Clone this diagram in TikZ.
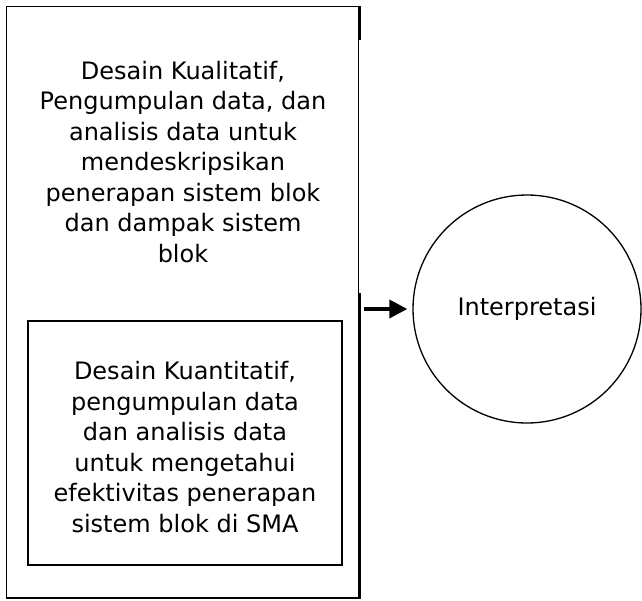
\documentclass[tikz,border=0pt]{standalone}
\usepackage{fontspec}
\setmainfont{DejaVu Sans}
\usetikzlibrary{arrows.meta}

\begin{document}
\begin{tikzpicture}[x=1pt, y=-1pt,
  box/.style={draw, rectangle, inner sep=0pt},
  txt/.style={align=center, font=\fontsize{24}{30.5}\selectfont},
  flow/.style={line width=3.5pt, -{Triangle[length=18pt, width=18pt]}}]

  \useasboundingbox (0,0) rectangle (642,600);

  % --- Outer box ---
  \node[box, line width=1.2pt, minimum width=352pt, minimum height=591.5pt] (outer) at (182.5,302.25) {};
  \draw[line width=3pt] (outer.north east) -- ++(0,34);
  \draw[line width=3pt] (outer.south east) -- ++(0,-306);

  \node[txt] (kual) at (183,162) {Desain Kualitatif,\\ Pengumpulan data, dan\\ analisis data untuk\\ mendeskripsikan\\ penerapan sistem blok\\ dan dampak sistem\\ blok};

  % --- Inner box ---
  \node[box, line width=2.5pt, minimum width=314pt, minimum height=244pt] (inner) at (185,443) {};
  \node[txt] (kuan) at (185,447) {Desain Kuantitatif,\\ pengumpulan data\\ dan analisis data\\ untuk mengetahui\\ efektivitas penerapan\\ sistem blok di SMA};

  % --- Interpretasi ---
  \node[draw, circle, line width=1.3pt, minimum size=228pt, inner sep=0pt, txt] (interp) at (527,309) {Interpretasi};

  \draw[flow, shorten <=5pt, shorten >=5pt] (interp.west -| outer.east) -- (interp.west);

\end{tikzpicture}
\end{document}
